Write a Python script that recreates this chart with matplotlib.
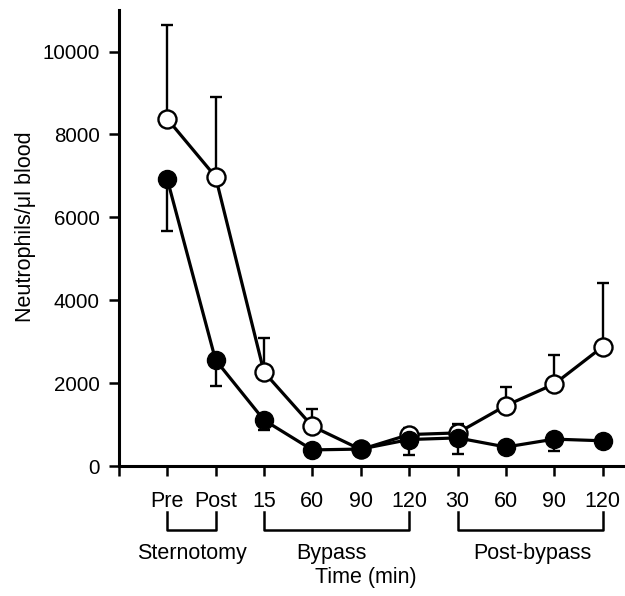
import numpy as np
import matplotlib.pyplot as plt

plt.rcParams['font.family'] = ['Liberation Sans', 'DejaVu Sans']

# time points along the x axis
tick_labels = ["Pre", "Post", "15", "60", "90", "120", "30", "60", "90", "120"]
x = np.arange(1, 11)

# open circles (upper error bars only)
open_mean = [8380, 6980, 2270, 960, 400, 760, 800, 1460, 1980, 2880]
open_err = [2270, 1930, 820, 420, 80, 160, 210, 440, 700, 1540]

# filled circles (lower error bars only)
filled_mean = [6930, 2560, 1110, 390, 410, 640, 680, 460, 650, 610]
filled_err = [1250, 630, 240, 60, 60, 370, 390, 100, 290, 80]

groups = ["Sternotomy", "Bypass", "Post-bypass"]
group_spans = [(1, 2), (3, 6), (7, 10)]
group_centers = [1.52, 4.4, 8.55]

fig = plt.figure(figsize=(6.25, 5.96), dpi=100)
ax = fig.add_axes([0.19, 0.218, 0.81, 0.765])

ax.errorbar(x, open_mean, yerr=[np.zeros(10), open_err], fmt="none",
            ecolor="black", elinewidth=1.7, capsize=4.5, capthick=1.7, zorder=2)
ax.plot(x, open_mean, "-o", color="black", lw=2.3, ms=13, mfc="white",
        mec="black", mew=1.7, zorder=3)

ax.errorbar(x, filled_mean, yerr=[filled_err, np.zeros(10)], fmt="none",
            ecolor="black", elinewidth=1.7, capsize=4.5, capthick=1.7, zorder=4)
ax.plot(x, filled_mean, "-o", color="black", lw=2.3, ms=13, mfc="black",
        mec="black", zorder=5)

ax.set_xlim(0, 10.46)
ax.set_ylim(0, 11000)
ax.set_xticks(np.arange(0, 11))
ax.set_xticklabels([""] + tick_labels, fontsize=15.5)
ax.set_yticks(np.arange(0, 10001, 2000))

for s in ["top", "right"]:
    ax.spines[s].set_visible(False)
for s in ["left", "bottom"]:
    ax.spines[s].set_linewidth(2.2)

ax.tick_params(axis="both", direction="out", length=7, width=1.8)
ax.tick_params(axis="x", pad=11)
ax.tick_params(axis="y", pad=6.5, labelsize=14.8)

# y label, centred a little above the middle of the axis
ax.text(-0.184, 5770, "Neutrophils/\u03bcl blood", rotation=90, fontsize=15.5,
        ha="center", va="center", transform=ax.get_yaxis_transform())

# group brackets below the axis
for (a, b), name, c in zip(group_spans, groups, group_centers):
    ax.plot([a, a, b, b], [-1110, -1550, -1550, -1110], color="black",
            lw=1.8, clip_on=False)
    ax.text(c, -2100, name, ha="center", va="center", fontsize=15.5)

ax.text(5.1, -2700, "Time (min)", ha="center", va="center", fontsize=15.5)

fig.savefig("out.png", dpi=100)
